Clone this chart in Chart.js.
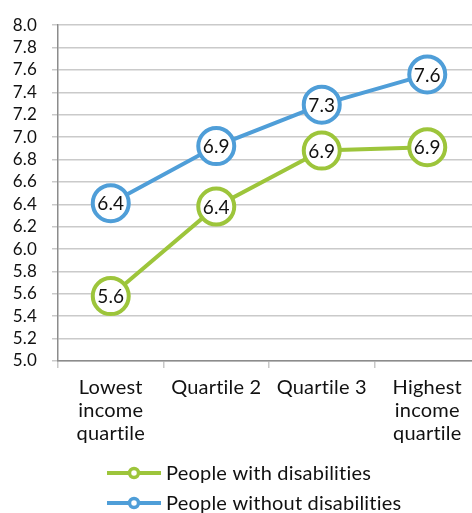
<!DOCTYPE html>
<html>
<head>
  <title>Life satisfaction by income quartile</title>
  <script src="https://cdn.jsdelivr.net/npm/chart.js"></script>
  <style>
    html, body { margin: 0; padding: 0; background: #fff; overflow: hidden; }
    #wrap { width: 490px; height: 513px; }
  </style>
</head>
<body>
  <div id="wrap"><canvas id="satChart"></canvas></div>
  <script>
    const quartiles = [
      ['Lowest', 'income', 'quartile'],
      'Quartile 2',
      'Quartile 3',
      ['Highest', 'income', 'quartile']
    ];
    const withDisabilities = [5.58, 6.38, 6.88, 6.91];
    const withoutDisabilities = [6.41, 6.92, 7.29, 7.56];
    const yTicks = [5.0, 5.2, 5.4, 5.6, 5.8, 6.0, 6.2, 6.4, 6.6, 6.8, 7.0, 7.2, 7.4, 7.6, 7.8, 8.0];

    const green = '#9dc53b';
    const blue = '#4f9ed8';
    const fontFamily = 'Lato, "Noto Sans", sans-serif';

    // tiny letter spacing keeps Lato from joining "ti" into a ligature
    const noLigatures = {
      id: 'noLigatures',
      beforeDraw(chart) {
        if ('letterSpacing' in chart.ctx) chart.ctx.letterSpacing = '0.2px';
      }
    };

    // value written inside each marker circle
    const pointLabels = {
      id: 'pointLabels',
      afterDatasetsDraw(chart) {
        const ctx = chart.ctx;
        ctx.save();
        ctx.font = '19px ' + fontFamily;
        ctx.fillStyle = '#111';
        ctx.textAlign = 'center';
        ctx.textBaseline = 'middle';
        chart.data.datasets.forEach((ds, i) => {
          chart.getDatasetMeta(i).data.forEach((pt, j) => {
            ctx.fillText(ds.data[j].toFixed(1), pt.x, pt.y + 1);
          });
        });
        ctx.restore();
      }
    };

    // legend stacked under the axis, rows left aligned
    const stackedLegend = {
      id: 'stackedLegend',
      afterDraw(chart) {
        const ctx = chart.ctx;
        const x0 = 107, lineLen = 54;
        ctx.save();
        ctx.font = '20px ' + fontFamily;
        ctx.textBaseline = 'middle';
        ctx.textAlign = 'left';
        chart.data.datasets.forEach((ds, i) => {
          const y = 473 + i * 30;
          ctx.strokeStyle = ds.borderColor;
          ctx.lineWidth = 4;
          ctx.beginPath();
          ctx.moveTo(x0, y);
          ctx.lineTo(x0 + lineLen, y);
          ctx.stroke();
          ctx.beginPath();
          ctx.arc(x0 + lineLen / 2, y, 4.5, 0, Math.PI * 2);
          ctx.fillStyle = '#fff';
          ctx.fill();
          ctx.lineWidth = 3.5;
          ctx.stroke();
          ctx.fillStyle = '#111';
          ctx.fillText(ds.label, x0 + lineLen + 5, y + 1);
        });
        ctx.restore();
      }
    };

    new Chart(document.getElementById('satChart'), {
      type: 'line',
      data: {
        labels: quartiles,
        datasets: [
          {
            label: 'People with disabilities',
            data: withDisabilities,
            borderColor: green,
            backgroundColor: '#fff',
            borderWidth: 4,
            pointRadius: 18,
            pointHoverRadius: 18,
            pointBorderWidth: 4,
            pointBackgroundColor: '#fff',
            fill: false
          },
          {
            label: 'People without disabilities',
            data: withoutDisabilities,
            borderColor: blue,
            backgroundColor: '#fff',
            borderWidth: 4,
            pointRadius: 18,
            pointHoverRadius: 18,
            pointBorderWidth: 4,
            pointBackgroundColor: '#fff',
            fill: false
          }
        ]
      },
      options: {
        responsive: true,
        maintainAspectRatio: false,
        animation: false,
        layout: { autoPadding: false, padding: { top: 17, right: 10, bottom: 68, left: 0 } },
        plugins: {
          legend: { display: false },
          tooltip: { enabled: false }
        },
        scales: {
          x: {
            offset: true,
            grid: { offset: true, drawOnChartArea: false, drawTicks: true, tickLength: 7, color: '#c8c8c8', lineWidth: 1.5 },
            border: { color: '#8c8c8c', width: 1.5 },
            ticks: { color: '#111', padding: 8, maxRotation: 0, autoSkip: false, font: { family: fontFamily, size: 20, lineHeight: 1.15 } },
            afterFit(scale) { scale.height = 84; }
          },
          y: {
            min: 5.0,
            max: 8.0,
            afterBuildTicks(scale) { scale.ticks = yTicks.map(v => ({ value: v })); },
            grid: { color: '#cacaca', lineWidth: 1.5, tickLength: 6 },
            border: { color: '#8c8c8c', width: 1.5 },
            ticks: {
              color: '#111',
              padding: 15,
              autoSkip: false,
              font: { family: fontFamily, size: 17 },
              callback: v => v.toFixed(1)
            },
            afterFit(scale) { scale.width = 58; }
          }
        }
      },
      plugins: [noLigatures, pointLabels, stackedLegend]
    });
  </script>
</body>
</html>
